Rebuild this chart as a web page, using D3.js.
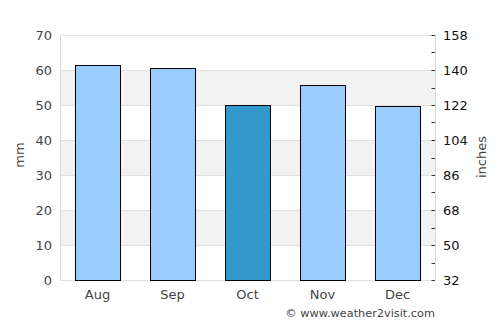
<!DOCTYPE html>
<html>
<head>
<meta charset="utf-8">
<script src="https://cdn.jsdelivr.net/npm/d3@7"></script>
<style>
  body { margin: 0; background: #fff; }
  text { font-family: "DejaVu Sans", sans-serif; fill: #444; }
</style>
</head>
<body>
<svg width="500" height="325"></svg>
<script>
var months = ['Aug', 'Sep', 'Oct', 'Nov', 'Dec'];
var rainMm = [61.4, 60.5, 50.0, 55.6, 49.7];
var highlight = ['Oct'];
var leftTicks = [0, 10, 20, 30, 40, 50, 60, 70];
var rightTicks = [32, 50, 68, 86, 104, 122, 140, 158];
var rightMinor = [41, 59, 77, 95, 113, 131, 149];

var margin = { top: 35, right: 65, bottom: 45, left: 60 };
var width = 500 - margin.left - margin.right;
var height = 325 - margin.top - margin.bottom;

var svg = d3.select('svg');
var g = svg.append('g').attr('transform', `translate(${margin.left},${margin.top})`);

var x = d3.scaleBand()
    .domain(months)
    .range([0, width])
    .paddingInner(0.4)
    .paddingOuter(0.2);

var y = d3.scaleLinear().domain([0, 70]).range([height, 0]);
var y2 = d3.scaleLinear().domain([32, 158]).range([height, 0]);

// shaded bands
var bands = [[10, 20], [30, 40], [50, 60]];
g.selectAll('rect.band')
    .data(bands)
    .enter().append('rect')
    .attr('class', 'band')
    .attr('x', 0)
    .attr('width', width)
    .attr('y', d => y(d[1]))
    .attr('height', d => y(d[0]) - y(d[1]))
    .attr('fill', '#f2f2f2');

// grid lines
g.selectAll('line.grid')
    .data(leftTicks)
    .enter().append('line')
    .attr('x1', 0).attr('x2', width)
    .attr('y1', d => Math.round(y(d)) + 0.5)
    .attr('y2', d => Math.round(y(d)) + 0.5)
    .attr('stroke', '#e0e0e0');

// frame sides
g.append('line')
    .attr('x1', 0.5).attr('x2', 0.5).attr('y1', 0).attr('y2', height)
    .attr('stroke', '#d8d8d8');
g.append('line')
    .attr('x1', width + 0.5).attr('x2', width + 0.5).attr('y1', 0).attr('y2', height)
    .attr('stroke', '#d8d8d8');

// bars
g.selectAll('rect.bar')
    .data(months)
    .enter().append('rect')
    .attr('class', 'bar')
    .attr('x', d => Math.round(x(d)) + 0.5)
    .attr('width', Math.round(x.bandwidth()))
    .attr('y', (d, i) => Math.round(y(rainMm[i])) + 0.5)
    .attr('height', (d, i) => Math.round(height - y(rainMm[i])))
    .attr('fill', d => highlight.includes(d) ? '#3399cc' : '#99ccff')
    .attr('stroke', '#000')
    .attr('stroke-width', 1);

// left axis labels
g.selectAll('text.ly')
    .data(leftTicks)
    .enter().append('text')
    .attr('x', -8)
    .attr('y', d => y(d))
    .attr('dy', '0.35em')
    .attr('text-anchor', 'end')
    .style('font-size', '13px')
    .text(d => d);

// right axis labels and ticks
g.selectAll('text.ry')
    .data(rightTicks)
    .enter().append('text')
    .attr('x', width + 8)
    .attr('y', d => y2(d))
    .attr('dy', '0.35em')
    .style('font-size', '13px')
    .style('fill', '#111')
    .text(d => d);

g.selectAll('line.rt')
    .data(rightTicks.concat(rightMinor))
    .enter().append('line')
    .attr('x1', width - 3.5).attr('x2', width)
    .attr('y1', d => Math.round(y2(d)) + 0.5)
    .attr('y2', d => Math.round(y2(d)) + 0.5)
    .attr('stroke', '#333');

// x labels
g.selectAll('text.mx')
    .data(months)
    .enter().append('text')
    .attr('x', d => x(d) + x.bandwidth() / 2)
    .attr('y', height + 19)
    .attr('text-anchor', 'middle')
    .style('font-size', '13px')
    .text(d => d);

// axis titles
svg.append('text')
    .attr('transform', 'translate(24,155) rotate(-90)')
    .attr('text-anchor', 'middle')
    .style('font-size', '13px')
    .text('mm');

svg.append('text')
    .attr('transform', 'translate(486,157) rotate(-90)')
    .attr('text-anchor', 'middle')
    .style('font-size', '13px')
    .text('inches');

svg.append('text')
    .attr('x', 435)
    .attr('y', 317)
    .attr('text-anchor', 'end')
    .style('font-size', '11.3px')
    .text('© www.weather2visit.com');
</script>
</body>
</html>
